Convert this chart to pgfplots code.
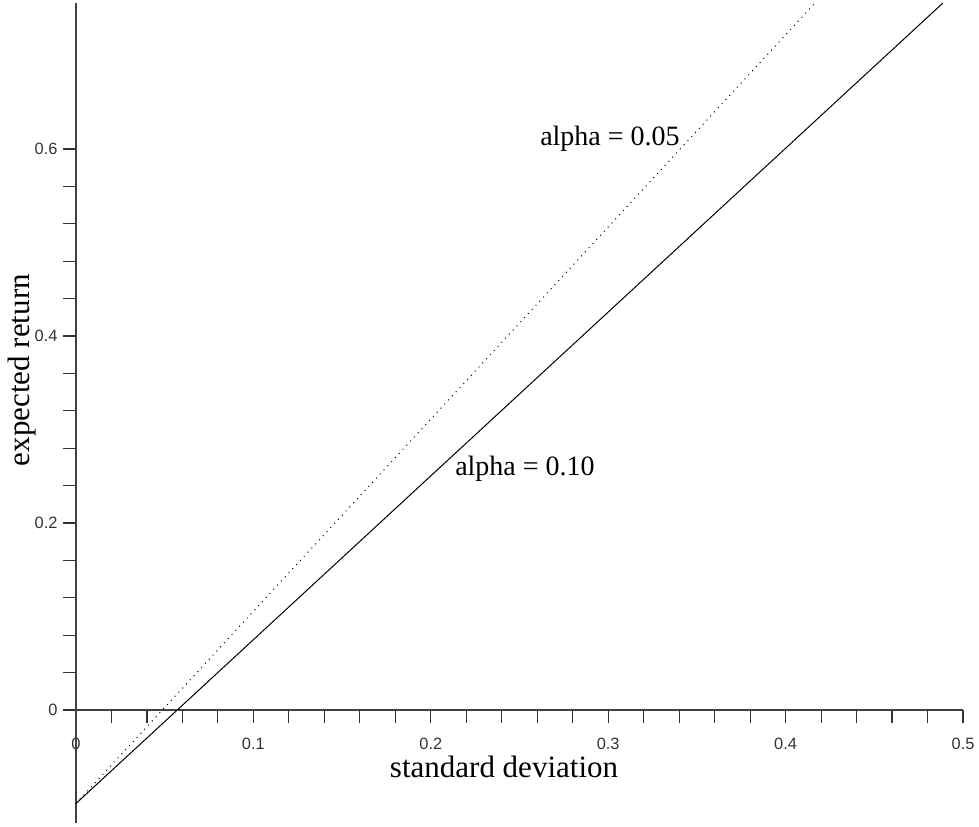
\documentclass[border=0pt]{standalone}
\usepackage{fontspec}
\setmainfont{Liberation Serif}
\newfontfamily\ticksfont{Liberation Sans}
\usepackage{pgfplots}
\pgfplotsset{compat=1.18}
\begin{document}
\begin{tikzpicture}
\begin{axis}[
  scale only axis, width=443.5pt, height=410pt,
  axis lines=middle,
  axis line style={-, line width=0.75pt, black!75},
  xmin=0, xmax=0.5, ymin=-0.121, ymax=0.756,
  xtick={0,0.1,0.2,0.3,0.4,0.5}, ytick={0,0.2,0.4,0.6},
  minor x tick num=4, minor y tick num=4,
  tick align=outside, major tick length=6.5pt, minor tick length=6.5pt,
  tick style={line width=0.6pt, black!80},
  hide obscured x ticks=false, hide obscured y ticks=false,
  /pgf/number format/assume math mode=true,
  tick label style={font=\ticksfont\fontsize{8.2}{9}\selectfont, text=black!80},
  xticklabel style={anchor=center, inner sep=0pt, yshift=-10.5pt},
  yticklabel style={anchor=east, inner sep=0pt, xshift=-2.5pt},
  clip=false,
]
% risk limits for two confidence levels
\addplot[black, line width=0.5pt] coordinates {(0,-0.1) (0.4886,0.756)};
\addplot[black, line width=0.5pt, dash pattern=on 0.5pt off 2.3pt] coordinates {(0,-0.1) (0.4165,0.756)};
\node[anchor=base, font=\fontsize{14}{16}\selectfont] at (axis cs:0.301,0.604) {alpha = 0.05};
\node[anchor=base, font=\fontsize{14}{16}\selectfont] at (axis cs:0.2531,0.2513) {alpha = 0.10};
\node[anchor=base, font=\fontsize{15.5}{17}\selectfont] at (axis cs:0.2413,-0.0717) {standard deviation};
\node[anchor=base, rotate=90, font=\fontsize{15.5}{17}\selectfont] at (axis cs:-0.0259,0.3636) {expected return};
\coordinate (bbl) at (axis cs:-0.0428,-0.1241);
\coordinate (btr) at (axis cs:0.509,0.7593);
\end{axis}
\pgfresetboundingbox
\path[use as bounding box] (bbl) rectangle (btr);
\end{tikzpicture}
\end{document}
